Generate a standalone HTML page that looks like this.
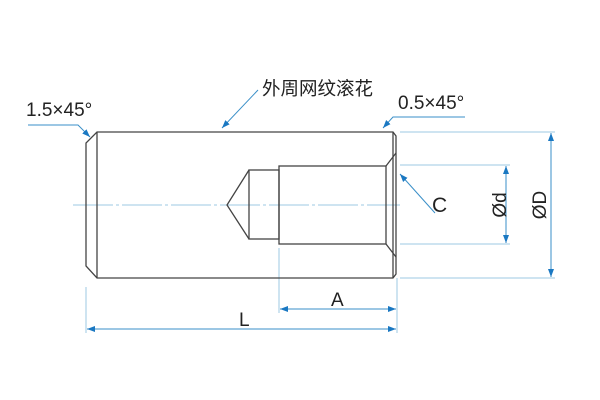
<!DOCTYPE html>
<html><head><meta charset="utf-8"><style>body{margin:0;background:#fff}svg{display:block}</style></head><body>
<svg width="600" height="400" viewBox="0 0 600 400" xmlns="http://www.w3.org/2000/svg" font-family="Liberation Sans, Noto Sans CJK SC, sans-serif">
<defs><marker id="a" markerWidth="8" markerHeight="6" refX="8" refY="3" orient="auto-start-reverse" markerUnits="userSpaceOnUse"><path d="M0,0L8,3L0,6z" fill="#1a78c2"/></marker></defs>
<g stroke="#9cc9e3" stroke-width="1" fill="none">
<line x1="73" y1="205" x2="400" y2="205" stroke-dasharray="40,3,3,3"/>
<line x1="400" y1="132" x2="555" y2="132"/><line x1="400" y1="278" x2="555" y2="278"/>
<line x1="400" y1="165" x2="510" y2="165"/><line x1="400" y1="244" x2="510" y2="244"/>
<line x1="86" y1="287" x2="86" y2="333"/><line x1="279" y1="248" x2="279" y2="313"/><line x1="397" y1="278" x2="397" y2="333"/>
</g>
<g stroke="#3a8fc8" stroke-width="1" fill="none">
<line x1="551" y1="133" x2="551" y2="277" marker-start="url(#a)" marker-end="url(#a)"/>
<line x1="506" y1="166" x2="506" y2="243" marker-start="url(#a)" marker-end="url(#a)"/>
<line x1="87" y1="329" x2="396" y2="329" marker-start="url(#a)" marker-end="url(#a)"/>
<line x1="280" y1="309" x2="396" y2="309" marker-start="url(#a)" marker-end="url(#a)"/>
<polyline points="28,125 78,125 90,137" marker-end="url(#a)"/>
<line x1="258" y1="90" x2="222" y2="128" marker-end="url(#a)"/>
<polyline points="465,117 393,117 383,128" marker-end="url(#a)"/>
<line x1="435" y1="213" x2="400" y2="174" marker-end="url(#a)"/>
</g>
<g stroke="#444" stroke-width="1.3" fill="none">
<path d="M97,132L393,132L396,136L396,274L393,278L97,278L86,266L86,143Z"/>
<line x1="97" y1="132" x2="97" y2="278"/><line x1="393" y1="132" x2="393" y2="278"/>
<rect x="279" y="166" width="107" height="78"/>
<path d="M386,166L396,153M386,244L396,257"/>
<rect x="249" y="170" width="30" height="69"/>
<path d="M249,170L227,205L249,239"/>
</g>
<g fill="#222" font-size="19">
<text x="26" y="116">1.5×45°</text>
<text x="262" y="95" font-size="18.5">外周网纹滚花</text>
<text x="398" y="109">0.5×45°</text>
<text x="432" y="212" font-size="21">C</text>
<text x="331" y="306">A</text>
<text x="239" y="326">L</text>
<text transform="translate(506,205) rotate(-90)" text-anchor="middle">Ød</text>
<text transform="translate(546,205) rotate(-90)" text-anchor="middle">ØD</text>
</g>
</svg>
</body></html>
